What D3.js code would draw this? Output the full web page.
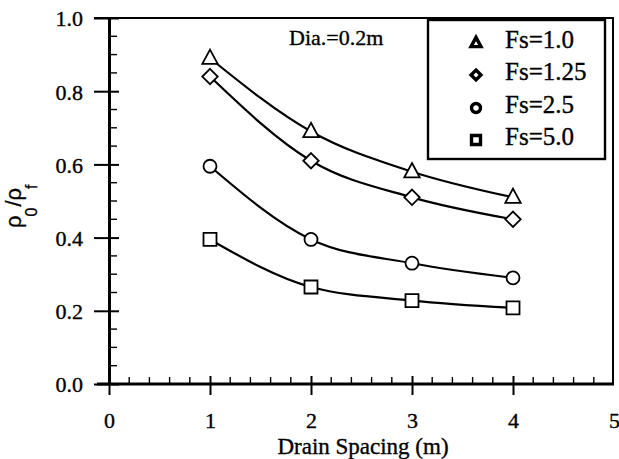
<!DOCTYPE html>
<html>
<head>
<meta charset="utf-8">
<script src="https://cdn.jsdelivr.net/npm/d3@7"></script>
<style>
  html, body { margin: 0; padding: 0; background: #fff; }
  svg { display: block; }
  text { fill: #000; }
  .serif { font-family: "Liberation Serif", "DejaVu Serif", serif; stroke: #000; stroke-width: 0.35px; }
  .sans { font-family: "Liberation Sans", "DejaVu Sans", sans-serif; stroke: #000; stroke-width: 0.3px; }
</style>
</head>
<body>
<svg id="chart" width="619" height="459"></svg>
<script>
// Drain spacing (m) and the normalised density ratio for each factor of safety
const spacing = [1, 2, 3, 4];
const fs10  = [0.89, 0.69, 0.58, 0.51];
const fs125 = [0.84, 0.61, 0.51, 0.45];
const fs25  = [0.595, 0.395, 0.33, 0.29];
const fs50  = [0.395, 0.265, 0.228, 0.208];
const seriesNames = ["Fs=1.0", "Fs=1.25", "Fs=2.5", "Fs=5.0"];
const seriesSymbols = ["triangle", "diamond", "circle", "square"];
const xTicks = [0, 1, 2, 3, 4, 5];
const yTicks = [0.0, 0.2, 0.4, 0.6, 0.8, 1.0];
const noteText = "Dia.=0.2m";
const xTitle = "Drain Spacing (m)";

const allSeries = [fs10, fs125, fs25, fs50];

const svg = d3.select("#chart");
const L = 109, R = 613, T = 18, B = 384;

const x = d3.scaleLinear().domain([0, 5]).range([L, R + 1]);
const y = d3.scaleLinear().domain([0, 1]).range([B, T]);

// frame: top and right edges
svg.append("path")
  .attr("d", `M${L - 15},${T}H${R}V${B}`)
  .attr("fill", "none").attr("stroke", "#000").attr("stroke-width", 2);

// minor ticks (inside)
const yMinor = d3.range(0, 1.0001, 0.05).filter(v => Math.abs(v * 5 - Math.round(v * 5)) > 1e-6);
svg.append("g").selectAll("line").data(yMinor).join("line")
  .attr("x1", L).attr("x2", L + 8)
  .attr("y1", d => y(d)).attr("y2", d => y(d))
  .attr("stroke", "#000").attr("stroke-width", 1.4);
const xMinor = d3.range(0, 5.0001, 0.2).filter(v => Math.abs(v - Math.round(v)) > 1e-6);
svg.append("g").selectAll("line").data(xMinor).join("line")
  .attr("x1", d => x(d)).attr("x2", d => x(d))
  .attr("y1", B).attr("y2", B - 7)
  .attr("stroke", "#000").attr("stroke-width", 1.4);

// y axis
const yAxis = d3.axisLeft(y).tickValues(yTicks).tickFormat(d3.format(".1f"))
  .tickSizeInner(15).tickSizeOuter(0).tickPadding(11);
const gy = svg.append("g").attr("transform", `translate(${L},0)`).call(yAxis);
gy.attr("font-family", null).attr("font-size", null);
gy.select(".domain").attr("stroke-width", 3);
gy.selectAll(".tick line").attr("x2", 10).attr("x1", -15).attr("stroke-width", 2);
gy.selectAll(".tick text").attr("class", "serif").style("font-size", "22px").attr("dy", "0.36em");

// x axis
const xAxis = d3.axisBottom(x).tickValues(xTicks).tickFormat(d3.format("d"))
  .tickSizeInner(11).tickSizeOuter(0).tickPadding(17);
const gx = svg.append("g").attr("transform", `translate(0,${B})`).call(xAxis);
gx.attr("font-family", null).attr("font-size", null);
gx.select(".domain").attr("stroke-width", 3).attr("d", `M${L - 12},0H${R + 1}`);
gx.selectAll(".tick line").attr("y1", -8).attr("y2", 11).attr("stroke-width", 2);
gx.selectAll(".tick").filter(d => d === 5).select("line").remove();
gx.selectAll(".tick text").attr("class", "serif").style("font-size", "22px");

// axis titles
svg.append("text").attr("class", "serif").attr("x", 363).attr("y", 454)
  .attr("text-anchor", "middle").style("font-size", "23px")
  .text(xTitle);

const yt = svg.append("text").attr("class", "sans")
  .attr("transform", "translate(21,228) rotate(-90)")
  .attr("text-anchor", "start").style("font-size", "22px");
yt.append("tspan").text("ρ");
yt.append("tspan").attr("dx", -1).attr("dy", 16).style("font-size", "16px").text("0");
yt.append("tspan").attr("dx", 1).attr("dy", -16).text("/ρ");
yt.append("tspan").attr("dx", -1).attr("dy", 16).style("font-size", "16px").text("f");

// annotation
svg.append("text").attr("class", "serif").attr("x", 289).attr("y", 45)
  .style("font-size", "22px").text(noteText);

// symbol paths
function symbolPath(kind, s) {
  if (kind === "triangle") return `M0,${-s * 0.62}L${s * 0.55},${s * 0.4}L${-s * 0.55},${s * 0.4}Z`;
  if (kind === "diamond") return `M0,${-s * 0.55}L${s * 0.55},0L0,${s * 0.55}L${-s * 0.55},0Z`;
  if (kind === "square") return `M${-s / 2},${-s / 2}H${s / 2}V${s / 2}H${-s / 2}Z`;
  const r = s / 2;
  return `M${r},0A${r},${r} 0 1,1 ${-r},0A${r},${r} 0 1,1 ${r},0Z`;
}
const markerSize = { triangle: 14, diamond: 14, circle: 13, square: 13 };

// curves and markers
const line = d3.line().x(d => x(d[0])).y(d => y(d[1])).curve(d3.curveMonotoneX);
allSeries.forEach((vals, i) => {
  const pts = spacing.map((s, j) => [s, vals[j]]);
  svg.append("path").datum(pts).attr("d", line)
    .attr("fill", "none").attr("stroke", "#000").attr("stroke-width", 2.2);
  svg.append("g").selectAll("path").data(pts).join("path")
    .attr("transform", d => `translate(${x(d[0])},${y(d[1])})`)
    .attr("d", symbolPath(seriesSymbols[i], markerSize[seriesSymbols[i]]))
    .attr("fill", "#fff").attr("stroke", "#000").attr("stroke-width", 1.8);
});

// legend
const lg = svg.append("g");
lg.append("rect").attr("x", 428).attr("y", 20).attr("width", 177).attr("height", 139)
  .attr("fill", "#fff").attr("stroke", "#000").attr("stroke-width", 2.4);
const rowBase = [48, 80, 113, 145];
seriesNames.forEach((name, i) => {
  lg.append("path").attr("transform", `translate(476,${rowBase[i] - 5})`)
    .attr("d", symbolPath(seriesSymbols[i], 9))
    .attr("fill", "#fff").attr("stroke", "#000").attr("stroke-width", 3.4);
  lg.append("text").attr("class", "serif").attr("x", 505).attr("y", rowBase[i])
    .style("font-size", "25px").text(name);
});
</script>
</body>
</html>
